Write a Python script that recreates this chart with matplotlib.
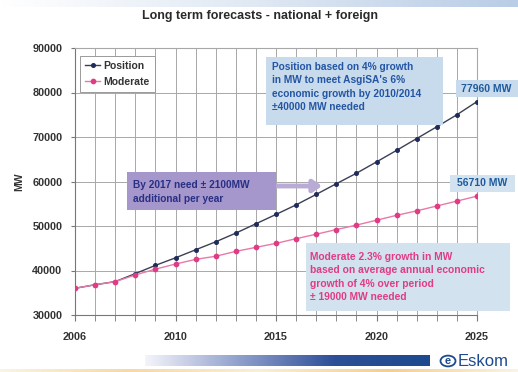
import numpy as np
import matplotlib
matplotlib.use("Agg")
import matplotlib.pyplot as plt
from matplotlib.colors import LinearSegmentedColormap
from matplotlib.patches import Rectangle, Circle


W, H = 518, 372

years = list(range(2005, 2026))
position = [36000, 36800, 37500, 39300, 41150, 42850, 44650, 46450, 48400, 50500,
            52600, 54750, 57100, 59500, 61850, 64400, 67000, 69650, 72300, 75000, 77960]
moderate = [36000, 36800, 37500, 39000, 40300, 41450, 42500, 43200, 44300, 45200,
            46100, 47150, 48150, 49200, 50200, 51300, 52400, 53400, 54500, 55600, 56710]

x_ticks = [2005, 2010, 2015, 2020, 2025]
x_tick_labels = ["2006", "2010", "2015", "2020", "2025"]
y_ticks = [30000, 40000, 50000, 60000, 70000, 80000, 90000]

TITLE = "Long term forecasts - national + foreign"
POSITION_NOTE = ("Position based on 4% growth\nin MW to meet AsgiSA's 6%\n"
                 "economic growth by 2010/2014\n\u00b140000 MW needed")
MODERATE_NOTE = ("Moderate 2.3% growth in MW\nbased on average annual economic\n"
                 "growth of 4% over period\n\u00b1 19000 MW needed")
NEED_NOTE = "By 2017 need \u00b1 2100MW\nadditional per year"

NAVY = "#1f2b5c"
PINK = "#e03c85"
BLUE_TEXT = "#2455a4"
BOX_BLUE = "#c8dbec"
BOX_PURPLE = "#a596cb"

plt.rcParams["font.family"] = ["Liberation Sans", "DejaVu Sans"]


def fx(x):
    return x / W


def fy(y):
    return 1 - y / H


def box(fig, x0, y0, x1, y1, color):
    fig.patches.append(Rectangle((fx(x0), fy(y1)), fx(x1 - x0), (y1 - y0) / H,
                                 transform=fig.transFigure, facecolor=color,
                                 edgecolor="none", zorder=2))


def gradient_strip(fig, x0, y0, x1, y1, colors):
    ax = fig.add_axes([fx(x0), fy(y1), fx(x1 - x0), (y1 - y0) / H])
    cmap = LinearSegmentedColormap.from_list("strip", colors)
    grad = np.linspace(0, 1, 256)[None, :]
    ax.imshow(grad, aspect="auto", cmap=cmap, extent=[0, 1, 0, 1])
    ax.set_axis_off()
    return ax


fig = plt.figure(figsize=(W / 100, H / 100), dpi=100)
fig.patch.set_facecolor("white")

# decorative bands of the slide
gradient_strip(fig, 0, 0, W, 7, ["#ffffff", "#dfe8f3", "#b9cde6"])
gradient_strip(fig, 145, 355, 430, 366, ["#f4f4fa", "#8f9fcc", "#2d4f97", "#1d4a8e"])
gradient_strip(fig, 0, 369, W, 372, ["#fbf3e4", "#f6d9a4", "#fbeed6", "#f3cf8f", "#fbf3e4"])

ax = fig.add_axes([fx(75), fy(315), fx(477 - 75), (315 - 48) / H])
ax.set_xlim(2005, 2025)
ax.set_ylim(30000, 90000)

ax.plot(years, position, color="#3a3f55", lw=1.0, marker="o", ms=2.6,
        mfc=NAVY, mec=NAVY, label="Position", zorder=3)
ax.plot(years, moderate, color="#e77aa8", lw=1.0, marker="o", ms=3.1,
        mfc=PINK, mec=PINK, label="Moderate", zorder=4)

ax.set_xticks(years, minor=True)
ax.set_xticks(x_ticks)
ax.set_xticklabels(x_tick_labels)
ax.set_yticks(y_ticks)
ax.grid(True, which="both", color="#a8a8a8", lw=0.7)
ax.tick_params(axis="x", which="both", length=4, color="#777777", pad=8)
ax.tick_params(axis="y", length=3, color="#777777", pad=6)
for lab in ax.get_xticklabels() + ax.get_yticklabels():
    lab.set_fontsize(7.8)
    lab.set_fontweight("bold")
    lab.set_color("#333333")
for side in ["left", "bottom"]:
    ax.spines[side].set_color("#777777")
for side in ["top", "right"]:
    ax.spines[side].set_color("#a8a8a8")

ax.set_ylabel("MW", fontsize=7.5, fontweight="bold", color="#333333", labelpad=6)

leg = ax.legend(loc="upper left", bbox_to_anchor=(0.0, 0.99), fontsize=7.5,
                handlelength=1.4, handletextpad=0.3, borderpad=0.5,
                labelspacing=0.55, fancybox=False, framealpha=1,
                edgecolor="#9a9a9a")
leg.get_frame().set_linewidth(0.7)
for t in leg.get_texts():
    t.set_fontweight("bold")
    t.set_color("#333333")

fig.text(fx(260), fy(16), TITLE, ha="center", va="center", fontsize=9,
         fontweight="bold", color="#2a2a2a")

# note boxes
box(fig, 266, 57, 443, 125, BOX_BLUE)
fig.text(fx(272), fy(87), POSITION_NOTE, ha="left", va="center", fontsize=7.3,
         fontweight="bold", color=BLUE_TEXT, linespacing=1.38, zorder=3)

box(fig, 306, 243, 510, 311, "#d2e2ef")
fig.text(fx(310), fy(277), MODERATE_NOTE, ha="left", va="center", fontsize=7.4,
         fontweight="bold", color=PINK, linespacing=1.45, zorder=3)

box(fig, 127, 172, 276, 210, BOX_PURPLE)
fig.text(fx(133), fy(192), NEED_NOTE, ha="left", va="center", fontsize=7.3,
         fontweight="bold", color="#283085", linespacing=1.4, zorder=3)
ax.annotate("", xy=(322, H - 186), xytext=(276, H - 186),
            xycoords="figure pixels", textcoords="figure pixels",
            arrowprops=dict(arrowstyle="-|>,head_length=0.5,head_width=0.35",
                            color="#b9aad6", lw=3.5, shrinkA=0, shrinkB=0))

# end-point value labels
box(fig, 456, 80, 518, 97, BOX_BLUE)
fig.text(fx(486), fy(88.5), f"{position[-1]} MW", ha="center", va="center",
         fontsize=7.5, fontweight="bold", color="#1d5a9e", zorder=3)
box(fig, 450, 175, 515, 192, "#d2e2ef")
fig.text(fx(482), fy(183.5), f"{moderate[-1]} MW", ha="center", va="center",
         fontsize=7.5, fontweight="bold", color="#1d5a9e", zorder=3)

# Eskom mark
fig.patches.append(Circle((fx(448), fy(361)), 7.5 / W, transform=fig.transFigure,
                          facecolor="none", edgecolor="#1d4a8e", lw=1.3, zorder=3))
fig.text(fx(448), fy(361), "e", ha="center", va="center", fontsize=8,
         fontweight="bold", color="#1d4a8e", zorder=3)
fig.text(fx(458), fy(361), "Eskom", ha="left", va="center", fontsize=12,
         color="#1d4a8e", zorder=3)

fig.savefig("out.png", dpi=100)
